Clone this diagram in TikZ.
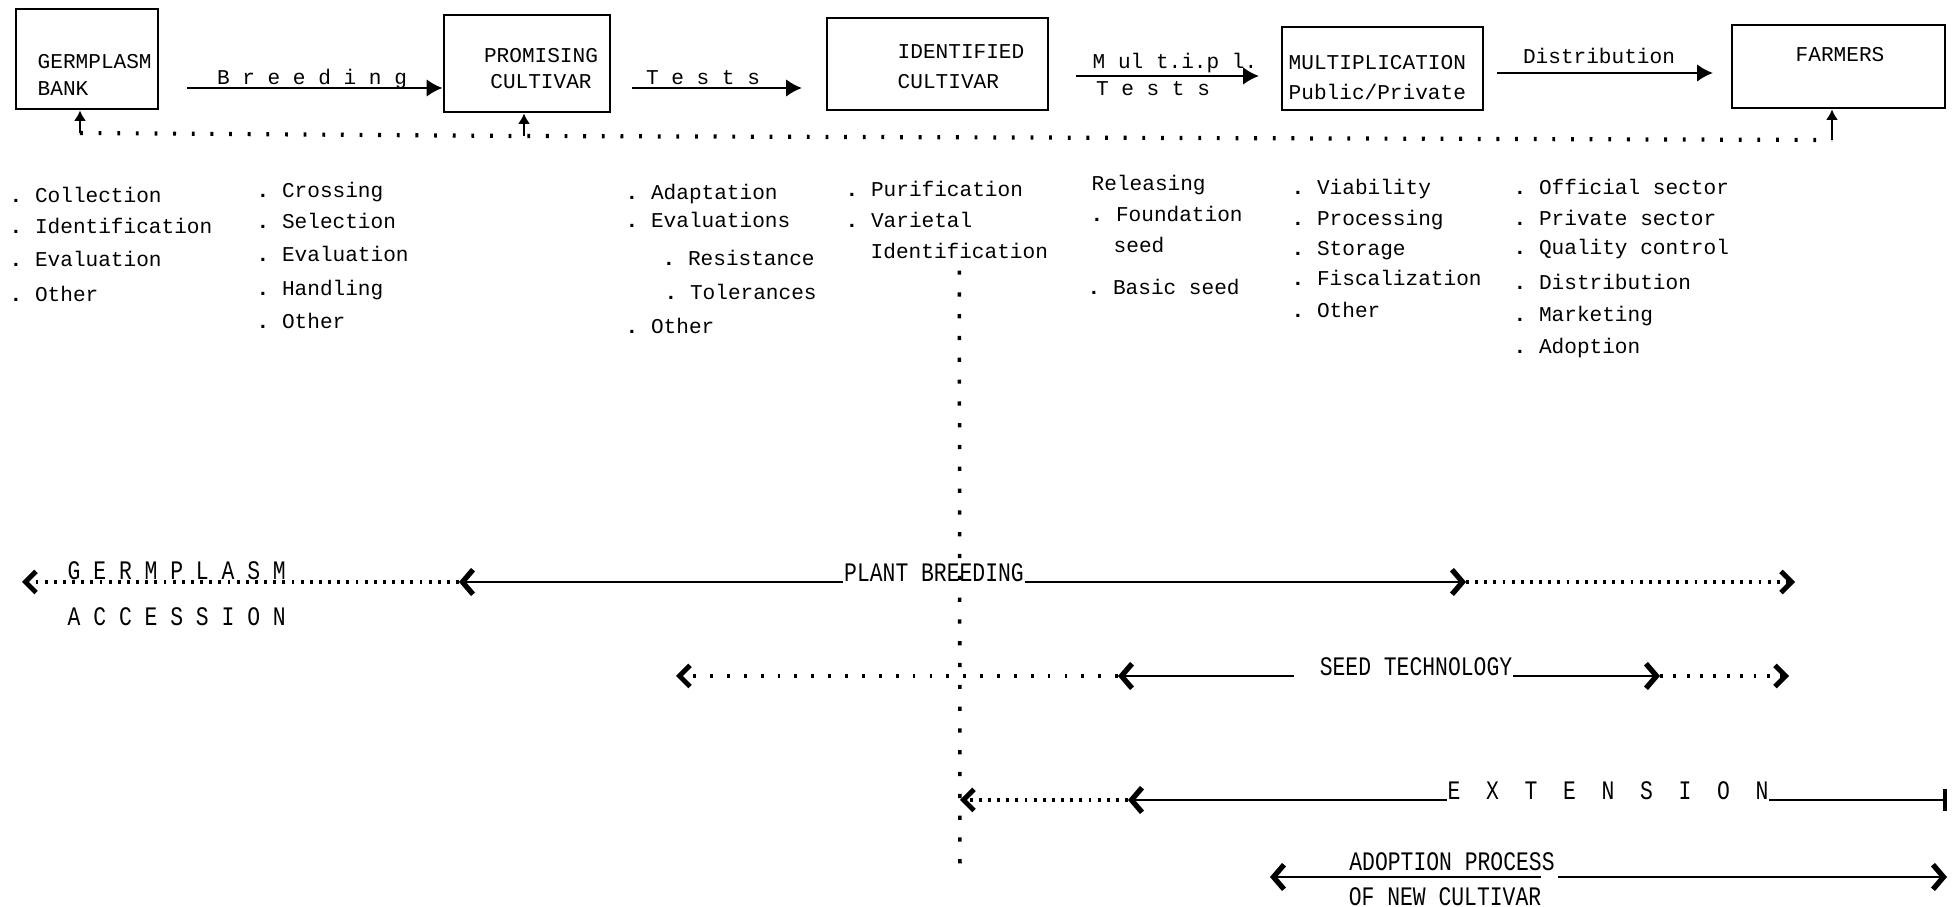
\documentclass[tikz,border=0pt]{standalone}
\usepackage{fontspec}
\usetikzlibrary{arrows.meta}
\newfontfamily\dmfamily{Liberation Mono}
\newfontfamily\dmtallfamily[FakeStretch=0.8]{Liberation Mono}
\newcommand\dmfont{\dmfamily\fontsize{6.0}{7.5}\selectfont}
\newcommand\dmtallfont{\dmtallfamily\fontsize{7.6}{9}\selectfont}
\newcommand\bul{\textbf{.}\ }

\tikzset{
  box/.style={draw, line width=0.8pt, inner sep=0pt},
  lbl/.style={font=\dmfont, inner sep=0pt},
  item/.style={font=\dmfont, inner sep=0pt, anchor=base west},
  tall/.style={font=\dmtallfont, inner sep=0pt},
  flow/.style={line width=0.7pt, -{Latex[length=4.5pt,width=5pt]}},
  back/.style={line width=0.7pt, -{Latex[length=3pt,width=3.5pt]}},
  feed/.style={line width=1.2pt, dash pattern=on 0.8pt off 4.5pt},
  spanarrow/.style={line width=0.8pt, -{Straight Barb[length=3pt,width=7pt,line width=1.5pt]}},
  dotspan/.style={line width=1.1pt, dash pattern=on 0.8pt off 1.8pt, -{Straight Barb[length=3pt,width=6pt,line width=1.4pt]}},
  guide/.style={line width=1pt, dash pattern=on 1.2pt off 5pt}
}

\begin{document}
\begin{tikzpicture}[x=0.01cm, y=-0.01cm]
  \useasboundingbox (0,0) rectangle (1959,907);
  % Boxes
  \node[box, minimum width=1.42cm, minimum height=1.00cm] (bank) at (87,59) {};
  \node[box, minimum width=1.66cm, minimum height=0.97cm] (prom) at (527,63.5) {};
  \node[box, minimum width=2.21cm, minimum height=0.92cm] (ident) at (937.5,64) {};
  \node[box, minimum width=2.01cm, minimum height=0.83cm] (mult) at (1382.5,68.5) {};
  \node[box, minimum width=2.13cm, minimum height=0.83cm] (farm) at (1838.5,66.5) {};
  \node[lbl, anchor=west, align=left] (banktxt) at (37,75) {GERMPLASM\\BANK};
  \node[lbl, align=center] (promtxt) at (541,68.5) {PROMISING\\CULTIVAR};
  \node[lbl, anchor=west, align=left] (identtxt) at (897,67) {IDENTIFIED\\[1pt]CULTIVAR};
  \node[lbl, anchor=west, align=left] (multtxt) at (1288,78) {MULTIPLICATION\\[1pt]Public/Private};
  \node[lbl, anchor=west] (farmtxt) at (1795,55) {FARMERS};
  % Arrow labels
  \node[lbl, anchor=base] (breed) at (312,85) {B r e e d i n g};
  \node[lbl, anchor=base] (tests) at (703,85) {T e s t s};
  \node[lbl, anchor=base] (multi) at (1175,69) {M ul t.i.p l.};
  \node[lbl, anchor=base] (tests2) at (1153,96) {T e s t s};
  \node[lbl, anchor=base] (distr) at (1599,64) {Distribution};
  \coordinate (brS) at (187,88);
  \coordinate (tsS) at (632,88);
  \coordinate (tsE) at (802,88);
  \coordinate (muS) at (1076,76);
  \coordinate (muE) at (1259,76);
  \coordinate (diS) at (1497,73);
  \coordinate (diE) at (1713,73);
  \coordinate (fbA) at (80,133);
  \coordinate (fbB) at (524,136);
  \coordinate (fbC) at (1832,140);
  % Edges
  \draw[flow] (brS) -- (brS -| prom.west);
  \draw[flow] (tsS) -- (tsE);
  \draw[flow] (muS) -- (muE);
  \draw[flow] (diS) -- (diE);
  \draw[feed] (fbA) -- (fbB) -- (fbC);
  \draw[back] (fbA) -- (fbA |- bank.south);
  \draw[back] (fbB) -- (fbB |- prom.south);
  \draw[back] (fbC) -- (fbC |- farm.south);
  % Lists
  \node[item] (c1a) at (9,203) {\bul Collection};
  \node[item] (c1b) at (9,234) {\bul Identification};
  \node[item] (c1c) at (9,267) {\bul Evaluation};
  \node[item] (c1d) at (9,302) {\bul Other};
  \node[item] (c2a) at (256,198) {\bul Crossing};
  \node[item] (c2b) at (256,229) {\bul Selection};
  \node[item] (c2c) at (256,262) {\bul Evaluation};
  \node[item] (c2d) at (256,296) {\bul Handling};
  \node[item] (c2e) at (256,329) {\bul Other};
  \node[item] (c3a) at (625,200) {\bul Adaptation};
  \node[item] (c3b) at (625,228) {\bul Evaluations};
  \node[item] (c3c) at (662,266) {\bul Resistance};
  \node[item] (c3d) at (664,300) {\bul Tolerances};
  \node[item] (c3e) at (625,334) {\bul Other};
  \node[item] (c4a) at (845,197) {\bul Purification};
  \node[item] (c4b) at (845,228) {\bul Varietal};
  \node[item] (c4c) at (870,259) {Identification};
  \node[item] (c5a) at (1091,191) {Releasing};
  \node[item] (c5b) at (1090,222) {\bul Foundation};
  \node[item] (c5c) at (1113,253) {seed};
  \node[item] (c5d) at (1087,295) {\bul Basic seed};
  \node[item] (c6a) at (1291,195) {\bul Viability};
  \node[item] (c6b) at (1291,226) {\bul Processing};
  \node[item] (c6c) at (1291,256) {\bul Storage};
  \node[item] (c6d) at (1291,286) {\bul Fiscalization};
  \node[item] (c6e) at (1291,318) {\bul Other};
  \node[item] (c7a) at (1513,195) {\bul Official sector};
  \node[item] (c7b) at (1513,226) {\bul Private sector};
  \node[item] (c7c) at (1513,255) {\bul Quality control};
  \node[item] (c7d) at (1513,290) {\bul Distribution};
  \node[item] (c7e) at (1513,322) {\bul Marketing};
  \node[item] (c7f) at (1513,354) {\bul Adoption};
  % Guide line
  \coordinate (vEnd) at (960,874);
  \draw[guide] ([yshift=-3pt]c4c.south) -- (vEnd);
  % Plant breeding
  \node[tall, anchor=south] (pb) at (934,582) {PLANT BREEDING};
  \node[tall, anchor=west] (gmA) at (67,571) {G E R M P L A S M};
  \node[tall, anchor=west] (gmB) at (67,617) {A C C E S S I O N};
  \coordinate (pbL) at (459,582);
  \coordinate (pbLL) at (22,582);
  \coordinate (pbR) at (1466,582);
  \coordinate (pbRR) at (1795,582);
  \draw[spanarrow] (pb.south west) -- (pbL);
  \draw[dotspan] (pbL) -- (pbLL);
  \draw[spanarrow] (pb.south east) -- (pbR);
  \draw[dotspan] (pbR) -- (pbRR);
  % Seed technology
  \node[tall, anchor=south] (st) at (1416,676) {SEED TECHNOLOGY};
  \coordinate (stA) at (1294,676);
  \coordinate (stL) at (1118,676);
  \coordinate (stLL) at (676,676);
  \coordinate (stR) at (1660,676);
  \coordinate (stRR) at (1789,676);
  \draw[spanarrow] (stA) -- (stL);
  \draw[dotspan, dash pattern=on 0.8pt off 4pt] (stL) -- (stLL);
  \draw[spanarrow] (st.south east) -- (stR);
  \draw[dotspan, dash pattern=on 0.8pt off 3pt] (stR) -- (stRR);
  % Extension
  \node[tall, anchor=south] (ex) at (1608,800) {E~~X~~T~~E~~N~~S~~I~~O~~N};
  \coordinate (exL) at (1128,800);
  \coordinate (exLL) at (960,800);
  \coordinate (exR) at (1947,800);
  \draw[spanarrow] (ex.south west) -- (exL);
  \draw[dotspan] (exL) -- (exLL);
  \draw[line width=0.8pt, -{Bar[width=6pt,line width=1pt]}] (ex.south east) -- (exR);
  % Adoption
  \node[tall] (adA) at (1452,862) {ADOPTION PROCESS};
  \node[tall] (adB) at (1445,897) {OF NEW CULTIVAR};
  \coordinate (adL) at (1270,877);
  \coordinate (adM) at (1541,877);
  \coordinate (adN) at (1558,877);
  \coordinate (adR) at (1947,877);
  \draw[spanarrow] (adM) -- (adL);
  \draw[spanarrow] (adN) -- (adR);
\end{tikzpicture}
\end{document}
